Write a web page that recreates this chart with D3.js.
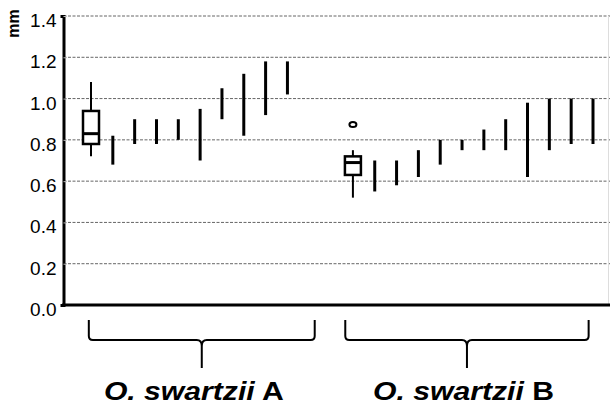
<!DOCTYPE html>
<html>
<head>
<meta charset="utf-8">
<script src="https://cdn.jsdelivr.net/npm/d3@7"></script>
<style>
  body { margin: 0; background: #fff; }
  text { font-family: "Liberation Sans", Arial, sans-serif; }
</style>
</head>
<body>
<div class="chart"></div>
<script>
// tick labels on the y axis
var yTicks = [0.0, 0.2, 0.4, 0.6, 0.8, 1.0, 1.2, 1.4];

// group names
var groupNames = ["O. swartzii", "O. swartzii"];
var groupLetters = ["A", "B"];

// box plots (first specimen of each group)
var boxA = { min: 0.72, q1: 0.78, median: 0.83, q3: 0.94, max: 1.08 };
var boxB = { min: 0.52, q1: 0.63, median: 0.69, q3: 0.72, max: 0.75, outlier: 0.875 };

// ranges of the other specimens, low / high
var lowA  = [0.68, 0.78, 0.78, 0.80, 0.70, 0.90, 0.82, 0.92, 1.02];
var highA = [0.82, 0.90, 0.90, 0.90, 0.95, 1.05, 1.12, 1.18, 1.18];

var lowB  = [0.55, 0.58, 0.62, 0.68, 0.75, 0.75, 0.75, 0.62, 0.75, 0.78, 0.78];
var highB = [0.70, 0.70, 0.75, 0.80, 0.80, 0.85, 0.90, 0.98, 1.00, 1.00, 1.00];

var svgWidth = 610, svgHeight = 409;
var margin = { top: 16, left: 63.5, bottom: 104 };
var chartHeight = svgHeight - margin.top - margin.bottom;

var svg = d3.select(".chart").append("svg")
  .attr("width", svgWidth)
  .attr("height", svgHeight);

// slot index -> x (group A in slots 0-9, group B in slots 12-23)
var x = d3.scaleLinear().domain([0, 23]).range([91, 593]);
var y = d3.scaleLinear().domain([0, 1.4]).range([margin.top + chartHeight, margin.top]);
var startB = 12;

// gridlines
svg.append("g")
  .selectAll("line")
  .data(yTicks.slice(1))
  .enter()
  .append("line")
  .attr("x1", margin.left)
  .attr("x2", svgWidth)
  .attr("y1", d => y(d))
  .attr("y2", d => y(d))
  .attr("stroke", "#666")
  .attr("stroke-width", 1)
  .attr("stroke-dasharray", "3,1.5");

// right border
svg.append("line")
  .attr("x1", 608.5).attr("x2", 608.5)
  .attr("y1", y(1.4)).attr("y2", y(0))
  .attr("stroke", "#ddd");

// y axis
var leftAxis = d3.axisLeft(y)
  .tickValues(yTicks)
  .tickFormat(d3.format(".1f"))
  .tickSize(3)
  .tickPadding(4);

var yAxis = svg.append("g")
  .attr("transform", `translate(${margin.left}, 0)`)
  .call(leftAxis);
yAxis.select(".domain").attr("stroke", "#000").attr("stroke-width", 3);
yAxis.selectAll(".tick line").attr("stroke", "#bbb").attr("x2", 3);
// labels sit a little below their gridline in the original
yAxis.selectAll(".tick text")
  .attr("font-size", "19px")
  .attr("fill", "#000")
  .attr("dy", "0.55em")
  .style("font-family", "'Liberation Sans', Arial, sans-serif");

// x axis line
svg.append("line")
  .attr("x1", margin.left - 1.5).attr("x2", svgWidth)
  .attr("y1", y(0)).attr("y2", y(0))
  .attr("stroke", "#000").attr("stroke-width", 3);

// unit label
svg.append("text")
  .attr("transform", "translate(19, 23.5) rotate(-90)")
  .attr("text-anchor", "middle")
  .attr("font-size", "16px")
  .attr("font-weight", "bold")
  .text("mm");

// box plots
function drawBox(b, slot) {
  var cx = x(slot), w = 16;
  var g = svg.append("g");
  g.append("line")
    .attr("x1", cx).attr("x2", cx)
    .attr("y1", y(b.max)).attr("y2", y(b.min))
    .attr("stroke", "#000").attr("stroke-width", 2);
  g.append("rect")
    .attr("x", cx - w / 2).attr("width", w)
    .attr("y", y(b.q3)).attr("height", y(b.q1) - y(b.q3))
    .attr("fill", "#fff").attr("stroke", "#000").attr("stroke-width", 2.5);
  g.append("line")
    .attr("x1", cx - w / 2).attr("x2", cx + w / 2)
    .attr("y1", y(b.median)).attr("y2", y(b.median))
    .attr("stroke", "#000").attr("stroke-width", 3);
  if (b.outlier !== undefined) {
    g.append("ellipse")
      .attr("cx", cx).attr("cy", y(b.outlier))
      .attr("rx", 3.5).attr("ry", 2.5)
      .attr("fill", "none").attr("stroke", "#000").attr("stroke-width", 2);
  }
}
drawBox(boxA, 0);
drawBox(boxB, startB);

// range bars
function drawRanges(lows, highs, firstSlot) {
  svg.append("g")
    .selectAll("line")
    .data(lows)
    .enter()
    .append("line")
    .attr("x1", (d, i) => x(firstSlot + i))
    .attr("x2", (d, i) => x(firstSlot + i))
    .attr("y1", d => y(d))
    .attr("y2", (d, i) => y(highs[i]))
    .attr("stroke", "#000")
    .attr("stroke-width", 3);
}
drawRanges(lowA, highA, 1);
drawRanges(lowB, highB, startB + 1);

// brackets under the groups
var brackets = [[-0.1, 10.25], [11.65, 22.8]];
var labelShift = [-8, -3.5];
var bTop = 320, bMid = 340, bBot = 368;
brackets.forEach(function (br, i) {
  var l = x(br[0]), r = x(br[1]), c = (l + r) / 2;
  var p = `M${l},${bTop} L${l},${bMid - 4} Q${l},${bMid} ${l + 4},${bMid} ` +
    `L${c - 5},${bMid} Q${c},${bMid} ${c},${bMid + 6} L${c},${bBot} ` +
    `M${c},${bMid + 6} Q${c},${bMid} ${c + 5},${bMid} ` +
    `L${r - 4},${bMid} Q${r},${bMid} ${r},${bMid - 4} L${r},${bTop}`;
  svg.append("path")
    .attr("d", p)
    .attr("fill", "none")
    .attr("stroke", "#000")
    .attr("stroke-width", 2);

  // the original lettering is a bit wider than the font
  var t = svg.append("text")
    .attr("transform", `translate(${c + labelShift[i]}, 400) scale(1.16, 1)`)
    .attr("text-anchor", "middle")
    .attr("font-size", "26px")
    .attr("font-weight", "bold");
  t.append("tspan").attr("font-style", "italic").text(groupNames[i]);
  t.append("tspan").text(" " + groupLetters[i]);
});
</script>
</body>
</html>
